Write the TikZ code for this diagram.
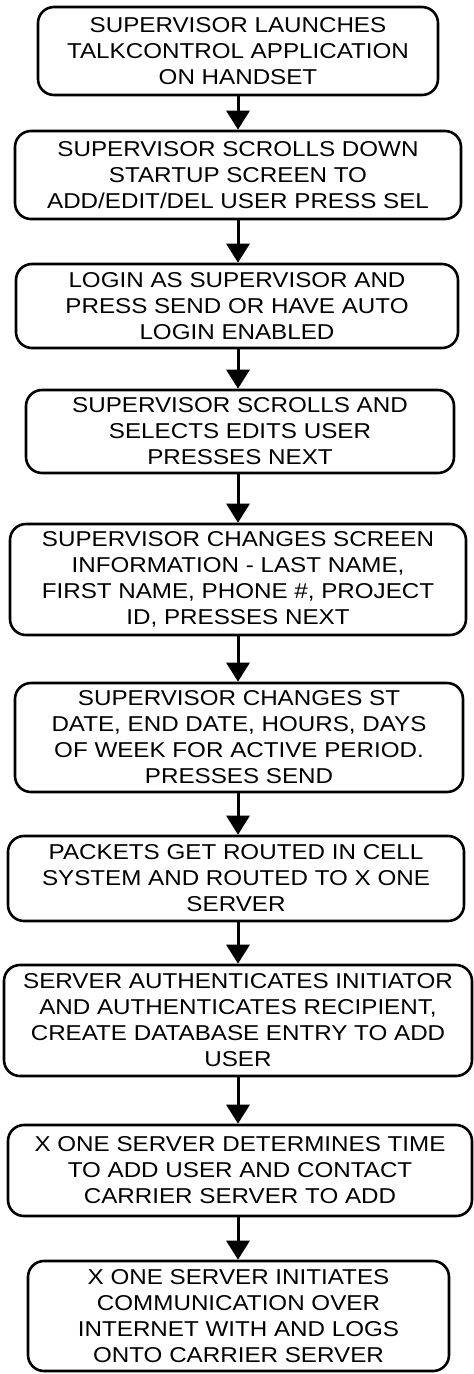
\documentclass[tikz,border=0pt]{standalone}
\usepackage{fontspec}
\setmainfont[FakeStretch=1.125]{Liberation Sans}
\usetikzlibrary{arrows.meta}
\begin{document}
\begin{tikzpicture}[x=1pt,y=-1pt,
  stepbox/.style={draw=black,line width=2.6pt,rounded corners=16pt,inner sep=0pt,
    align=center,font=\fontsize{21.5}{26}\selectfont},
  flow/.style={line width=3pt,-{Triangle[length=19pt,width=23pt]}}]
\useasboundingbox[fill=white] (0,0) rectangle (474,1374);
\node[stepbox,minimum width=400pt,minimum height=88pt] (b1) at (238,51)
  {SUPERVISOR LAUNCHES\\TALKCONTROL APPLICATION\\ON HANDSET};
\node[stepbox,minimum width=446pt,minimum height=88pt] (b2) at (238,175)
  {SUPERVISOR SCROLLS DOWN\\STARTUP SCREEN TO\\ADD/EDIT/DEL USER PRESS SEL};
\node[stepbox,minimum width=442pt,minimum height=84pt] (b3) at (237,306)
  {LOGIN AS SUPERVISOR AND\\PRESS SEND OR HAVE AUTO\\LOGIN ENABLED};
\node[stepbox,minimum width=428pt,minimum height=83pt] (b4) at (240,431.5)
  {SUPERVISOR SCROLLS AND\\SELECTS EDITS USER\\PRESSES NEXT};
\node[stepbox,minimum width=456pt,minimum height=111pt] (b5) at (238,579.5)
  {SUPERVISOR CHANGES SCREEN\\INFORMATION - LAST NAME,\\FIRST NAME, PHONE \#, PROJECT\\ID, PRESSES NEXT};
\node[stepbox,minimum width=448pt,minimum height=109pt] (b6) at (239,737.5)
  {SUPERVISOR CHANGES ST\\DATE, END DATE, HOURS, DAYS\\OF WEEK FOR ACTIVE PERIOD.\\PRESSES SEND};
\node[stepbox,minimum width=456pt,minimum height=85pt] (b7) at (236,878.5)
  {PACKETS GET ROUTED IN CELL\\SYSTEM AND ROUTED TO X ONE\\SERVER};
\node[stepbox,minimum width=468pt,minimum height=111pt] (b8) at (238,1020.5)
  {SERVER AUTHENTICATES INITIATOR\\AND AUTHENTICATES RECIPIENT,\\CREATE DATABASE ENTRY TO ADD\\USER};
\node[stepbox,minimum width=464pt,minimum height=91pt] (b9) at (240,1170.5)
  {X ONE SERVER DETERMINES TIME\\TO ADD USER AND CONTACT\\CARRIER SERVER TO ADD};
\node[stepbox,minimum width=421pt,minimum height=110pt] (b10) at (238.5,1316)
  {X ONE SERVER INITIATES\\COMMUNICATION OVER\\INTERNET WITH AND LOGS\\ONTO CARRIER SERVER};
\foreach \a/\b in {b1/b2,b2/b3,b3/b4,b4/b5,b5/b6,b6/b7,b7/b8,b8/b9,b9/b10}
  \draw[flow] (\a.south -| 238,0) -- (\b.north -| 238,0);
\end{tikzpicture}
\end{document}
